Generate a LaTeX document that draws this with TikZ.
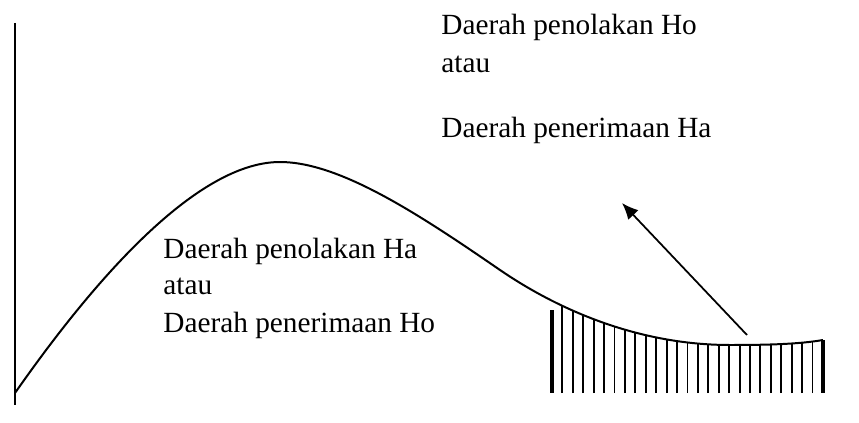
\documentclass[tikz,border=0pt]{standalone}
\usepackage{fontspec}
\setmainfont{Liberation Serif}
\usetikzlibrary{arrows.meta}

\begin{document}
\begin{tikzpicture}
  [x=0.015cm, y=-0.015cm,
   lbl/.style={anchor=base west, inner sep=0pt, font=\fontsize{12.5}{15}\selectfont},
   hatch/.style={line width=0.8pt},
   edge/.style={line width=2pt}]
  \useasboundingbox (0,0) rectangle (859,423);

  % axis and curve
  \draw[line width=0.9pt] (15,23) -- (15,405);
  \draw[line width=0.85pt] (15,393) .. controls (80,300) and (190,162) .. (280,162)
    .. controls (340,162) and (420,215) .. (500,270)
    .. controls (560,311) and (640,345) .. (730,345)
    .. controls (770,345) and (800,344) .. (823,340);

  % hatched tail
  \begin{scope}
    \clip (500,270) .. controls (560,311) and (640,345) .. (730,345)
      .. controls (770,345) and (800,344) .. (823,340) -- (840,340) -- (840,400) -- (500,400) -- cycle;
    \foreach \i in {1,...,25}
      \draw[hatch] (552+\i*10.42,393) -- (552+\i*10.42,300);
  \end{scope}
  \draw[edge] (552,310) -- (552,393);
  \draw[edge] (823,340) -- (823,393);

  \node[lbl] (ho1) at (441,35) {Daerah penolakan Ho};
  \node[lbl] (ho2) at (441,73) {atau};
  \node[lbl] (ho3) at (441,138) {Daerah penerimaan Ha};

  \node[lbl] (ha1) at (163,258) {Daerah penolakan Ha};
  \node[lbl] (ha2) at (163,295) {atau};
  \node[lbl] (ha3) at (163,332) {Daerah penerimaan Ho};

  \coordinate (tail) at (747,335);
  \coordinate (tip) at (622,203);
  \draw[line width=0.75pt, -{Latex[length=7pt,width=6pt]}] (tail) -- (tip);
\end{tikzpicture}
\end{document}
